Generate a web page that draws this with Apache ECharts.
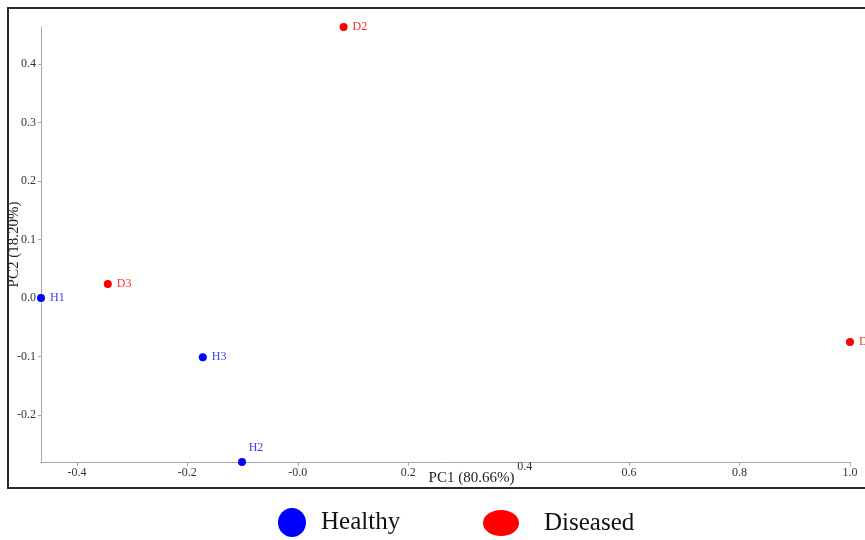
<!DOCTYPE html>
<html>
<head>
<meta charset="utf-8">
<title>PCA</title>
<script src="https://cdn.jsdelivr.net/npm/echarts@6/dist/echarts.min.js"></script>
<style>
  html, body { margin: 0; padding: 0; background: #ffffff; }
  #chart { width: 865px; height: 540px; }
</style>
</head>
<body>
<div id="chart"></div>
<script>
// PCA scores per sample
const healthyNames = ['H1', 'H2', 'H3'];
const healthyPC1 = [-0.465, -0.101, -0.172];
const healthyPC2 = [0.0, -0.280, -0.101];

const diseasedNames = ['D1', 'D2', 'D3'];
const diseasedPC1 = [1.0, 0.083, -0.344];
const diseasedPC2 = [-0.075, 0.463, 0.024];

// axis ticks and their printed labels
const xTickValues = [-0.4, -0.2, 0.0, 0.2, 0.4, 0.6, 0.8, 1.0];
const xTickLabels = ['-0.4', '-0.2', '-0.0', '0.2', '0.4', '0.6', '0.8', '1.0'];
const yTickValues = [-0.2, -0.1, 0.0, 0.1, 0.2, 0.3, 0.4];
const yTickLabels = ['-0.2', '-0.1', '0.0', '0.1', '0.2', '0.3', '0.4'];
// this x tick label is lifted up beside the axis title
const xRaisedTick = 0.4;

// axis extents
const xRange = [-0.465, 1.0];
const yRange = [-0.28, 0.463];

const SERIF = '"Liberation Serif", "Times New Roman", serif';

function lookup(values, labels) {
  return function (v) {
    let best = 0;
    for (let i = 1; i < values.length; i++) {
      if (Math.abs(values[i] - v) < Math.abs(values[best] - v)) best = i;
    }
    return labels[best];
  };
}

function points(names, xs, ys) {
  return names.map((n, i) => ({ name: n, value: [xs[i], ys[i]] }));
}

const healthyData = points(healthyNames, healthyPC1, healthyPC2);
// H2 sits on the bottom edge, so its label goes above it
healthyData[1].label = { position: 'top', offset: [14, 0], distance: 4 };

const xLabelOf = lookup(xTickValues, xTickLabels);
const xRegularTicks = xTickValues.filter(v => v !== xRaisedTick);

const chart = echarts.init(document.getElementById('chart'), null, { renderer: 'canvas' });

const ellipseIcon = 'path://M50 0A50 50 0 1 1 50 100A50 50 0 1 1 50 0Z';

const tickFont = { fontFamily: SERIF, fontSize: 12, color: '#333' };

chart.setOption({
  backgroundColor: '#ffffff',
  animation: false,
  grid: { left: 41, right: 15, top: 27, bottom: 78, containLabel: false, outerBoundsMode: 'none' },
  xAxis: [
    {
      type: 'value',
      position: 'bottom',
      min: xRange[0],
      max: xRange[1],
      name: 'PC1 (80.66%)',
      nameLocation: 'middle',
      nameGap: 9,
      nameMoveOverlap: false,
      nameTextStyle: { fontFamily: SERIF, fontSize: 15, color: '#222', padding: [0, 0, 0, 52] },
      axisLine: { show: true, onZero: false, lineStyle: { color: '#a8a8a8', width: 1 } },
      axisTick: { show: true, length: 4, lineStyle: { color: '#a8a8a8' }, customValues: xTickValues },
      splitLine: { show: false },
      axisLabel: Object.assign({
        customValues: xRegularTicks,
        formatter: xLabelOf,
        margin: 5
      }, tickFont)
    },
    {
      // carries only the lifted tick label
      type: 'value',
      position: 'bottom',
      offset: 0,
      min: xRange[0],
      max: xRange[1],
      axisLine: { show: false },
      axisTick: { show: false },
      splitLine: { show: false },
      axisLabel: Object.assign({
        customValues: [xRaisedTick],
        formatter: v => '{r|' + xLabelOf(v) + '}',
        margin: -1,
        rich: { r: Object.assign({ padding: [0, 0, 0, 12] }, tickFont) }
      }, tickFont)
    }
  ],
  yAxis: {
    type: 'value',
    min: yRange[0],
    max: yRange[1],
    name: 'PC2 (18.20%)',
    nameLocation: 'middle',
    nameGap: 19,
    nameRotate: 90,
    nameMoveOverlap: false,
    nameTextStyle: { fontFamily: SERIF, fontSize: 15, color: '#222' },
    axisLine: { show: true, onZero: false, lineStyle: { color: '#a8a8a8', width: 1 } },
    axisTick: { show: true, length: 3, lineStyle: { color: '#a8a8a8' }, customValues: yTickValues },
    splitLine: { show: false },
    axisLabel: Object.assign({
      customValues: yTickValues,
      formatter: lookup(yTickValues, yTickLabels),
      margin: 5
    }, tickFont)
  },
  legend: [
    {
      data: [{ name: 'Healthy', icon: ellipseIcon }],
      left: 278,
      top: 508,
      padding: 0,
      itemWidth: 28,
      itemHeight: 29,
      symbolKeepAspect: false,
      selectedMode: false,
      textStyle: { fontFamily: SERIF, fontSize: 25, color: '#111', padding: [0, 0, 0, 10] }
    },
    {
      data: [{ name: 'Diseased', icon: ellipseIcon }],
      left: 483,
      top: 510,
      padding: 0,
      itemWidth: 36,
      itemHeight: 26,
      symbolKeepAspect: false,
      selectedMode: false,
      textStyle: { fontFamily: SERIF, fontSize: 25, color: '#111', padding: [0, 0, 0, 20] }
    }
  ],
  graphic: [
    {
      type: 'rect',
      shape: { x: 8, y: 8, width: 880, height: 480 },
      style: { fill: 'none', stroke: '#2a2a2a', lineWidth: 2 },
      silent: true,
      z: 100
    }
  ],
  series: [
    {
      name: 'Healthy',
      type: 'scatter',
      xAxisIndex: 0,
      symbol: 'circle',
      symbolSize: 8,
      itemStyle: { color: '#0000ff', opacity: 1 },
      label: {
        show: true,
        position: 'right',
        distance: 5,
        formatter: '{b}',
        fontFamily: SERIF,
        fontSize: 12,
        color: '#3b3bff'
      },
      data: healthyData
    },
    {
      name: 'Diseased',
      type: 'scatter',
      xAxisIndex: 0,
      symbol: 'circle',
      symbolSize: 8,
      itemStyle: { color: '#ff0000', opacity: 1 },
      label: {
        show: true,
        position: 'right',
        distance: 5,
        formatter: '{b}',
        fontFamily: SERIF,
        fontSize: 12,
        color: '#ff2a2a'
      },
      data: points(diseasedNames, diseasedPC1, diseasedPC2)
    }
  ]
});
</script>
</body>
</html>
